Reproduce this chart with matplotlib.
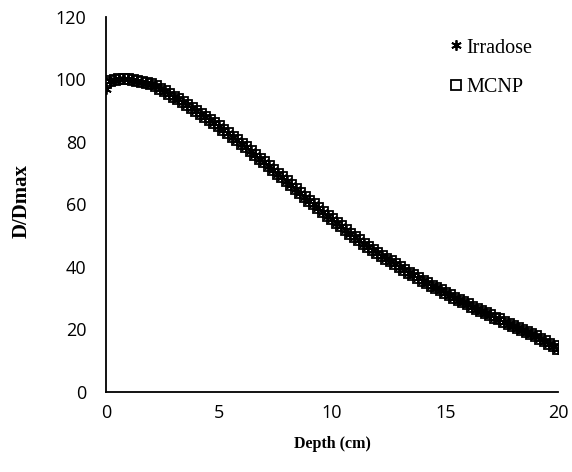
import numpy as np
import matplotlib
matplotlib.use("Agg")
import matplotlib.pyplot as plt

# depth (cm), step of 0.2
depth = [round(0.2 * i, 1) for i in range(101)]

# MCNP relative dose
mcnp = [99.0, 99.5, 99.8, 100.0, 100.0, 100.0, 99.9, 99.6, 99.3, 98.9,
        98.4, 97.8, 97.1, 96.3, 95.4, 94.5, 93.6, 92.7, 91.8, 90.9,
        90.0, 89.0, 88.0, 87.0, 86.0, 85.0, 83.9, 82.8, 81.7, 80.6,
        79.5, 78.3, 77.1, 75.9, 74.7, 73.5, 72.3, 71.1, 69.9, 68.7,
        67.5, 66.2, 65.0, 63.7, 62.5, 61.2, 60.0, 58.8, 57.6, 56.4,
        55.2, 54.1, 53.0, 51.8, 50.7, 49.6, 48.6, 47.5, 46.5, 45.5,
        44.5, 43.6, 42.7, 41.8, 40.9, 40.0, 39.1, 38.2, 37.3, 36.5,
        35.6, 34.8, 34.0, 33.2, 32.5, 31.7, 31.0, 30.2, 29.5, 28.7,
        28.0, 27.3, 26.6, 25.9, 25.2, 24.5, 23.8, 23.2, 22.5, 21.9,
        21.2, 20.5, 19.8, 19.2, 18.5, 17.8, 17.0, 16.2, 15.4, 14.6,
        13.9]

# Irradose sits under the MCNP squares; only the surface point differs visibly
irradose = [97.0] + mcnp[1:]

x_ticks = [0, 5, 10, 15, 20]
y_ticks = [0, 20, 40, 60, 80, 100, 120]

fig = plt.figure(figsize=(5.72, 4.72), dpi=100)
ax = fig.add_axes([0.185, 0.1695, 0.791, 0.7945])

ax.plot(depth, irradose, linestyle='none', marker=(6, 2, 0), markersize=7.5,
        color='black', markeredgewidth=1.3, label='Irradose')
ax.plot(depth, mcnp, linestyle='none', marker='s', markersize=6.5,
        markerfacecolor='none', markeredgecolor='black', markeredgewidth=1.3,
        label='MCNP')

ax.set_xlim(0, 20)
ax.set_ylim(0, 120)
ax.set_xticks(x_ticks)
ax.set_yticks(y_ticks)

for s in ['top', 'right']:
    ax.spines[s].set_visible(False)
for s in ['left', 'bottom']:
    ax.spines[s].set_linewidth(1.3)
    ax.spines[s].set_color('black')

ax.tick_params(axis='both', length=0, labelsize=13)
ax.tick_params(axis='x', pad=9)
ax.tick_params(axis='y', pad=14)
for lab in ax.get_xticklabels() + ax.get_yticklabels():
    lab.set_family('Open Sans')

ax.set_xlabel('Depth (cm)', fontfamily='Liberation Serif', fontweight='bold',
              fontsize=11.5, labelpad=10)
ax.set_ylabel('D/Dmax', fontfamily='Liberation Serif', fontweight='bold',
              fontsize=15, labelpad=16)
ax.yaxis.set_label_coords(-0.165, 0.51)

fig.legend(handles=ax.get_lines(), loc='upper left',
           bbox_to_anchor=(0.752, 0.957), frameon=False,
           prop={'family': 'Liberation Serif', 'size': 14.5},
           handlelength=0.8, handletextpad=0.1, labelspacing=1.0,
           borderpad=0.4)

fig.savefig('out.png', dpi=100)
